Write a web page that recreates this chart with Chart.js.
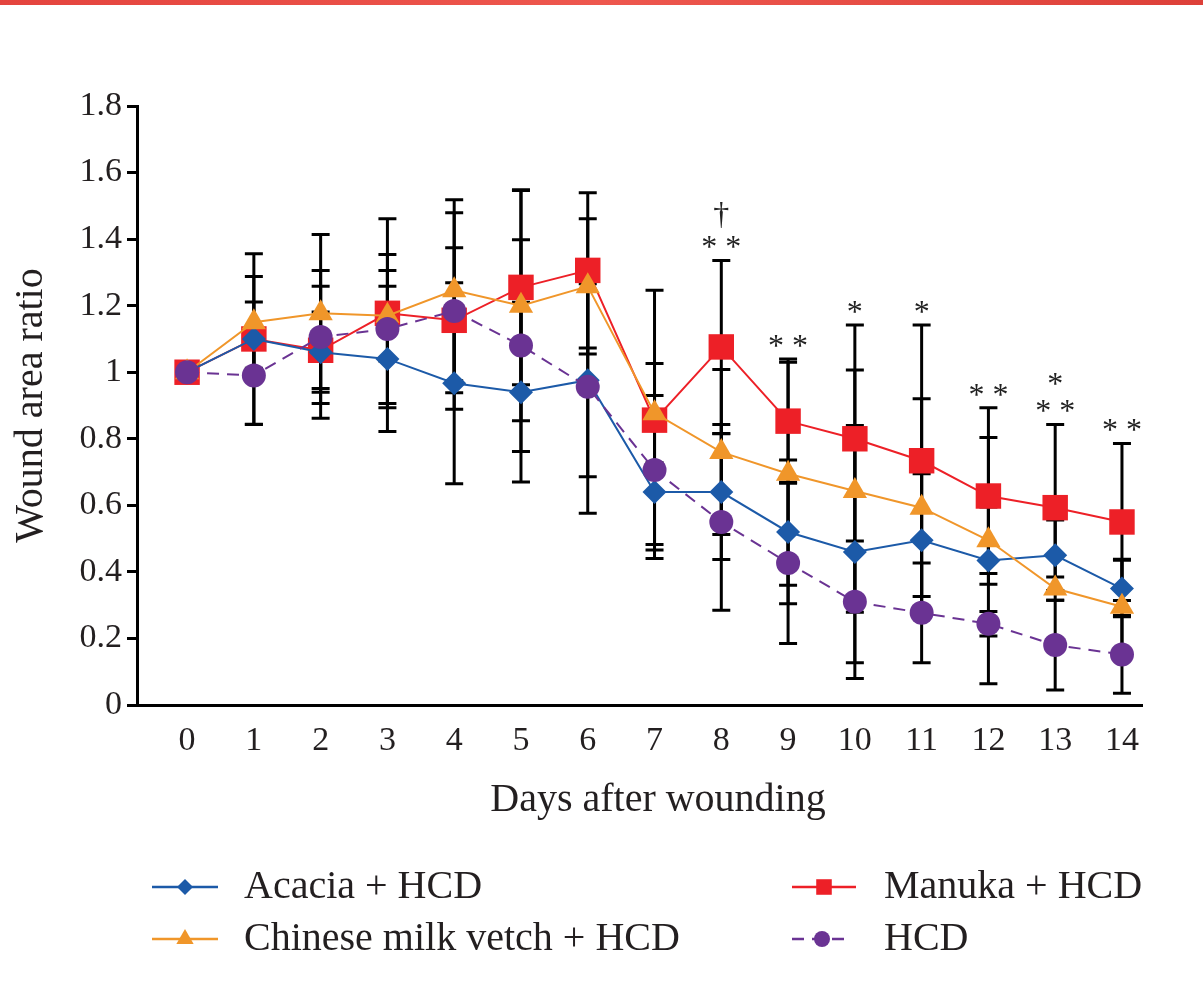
<!DOCTYPE html>
<html>
<head>
<meta charset="utf-8">
<script src="https://cdn.jsdelivr.net/npm/chart.js@4.4.1/dist/chart.umd.min.js"></script>
<style>
  html, body { margin: 0; padding: 0; background: #fff; }
  #wrap { position: relative; width: 1203px; height: 985px; }
  #topbar { position: absolute; left: 0; top: 0; width: 1203px; height: 5px;
            background: linear-gradient(90deg, #e4443e, #ee574e 50%, #dd4039); }
  canvas { position: absolute; left: 0; top: 0; }
</style>
</head>
<body>
<div id="wrap">
  <canvas id="woundChart" width="1203" height="985"></canvas>
  <div id="topbar"></div>
</div>
<script>
// data
var days = [0, 1, 2, 3, 4, 5, 6, 7, 8, 9, 10, 11, 12, 13, 14];
var yTicks = [0, 0.2, 0.4, 0.6, 0.8, 1, 1.2, 1.4, 1.6, 1.8];
var yTickLabels = ['0', '0.2', '0.4', '0.6', '0.8', '1', '1.2', '1.4', '1.6', '1.8'];

var acacia    = [1.00, 1.10, 1.06, 1.04, 0.967, 0.94, 0.976, 0.64, 0.64, 0.52, 0.46, 0.495, 0.434, 0.45, 0.35];
var manuka    = [1.00, 1.10, 1.066, 1.177, 1.156, 1.255, 1.306, 0.856, 1.076, 0.853, 0.80, 0.734, 0.628, 0.593, 0.55];
var vetch     = [1.00, 1.15, 1.177, 1.17, 1.246, 1.20, 1.258, 0.877, 0.76, 0.695, 0.643, 0.593, 0.495, 0.35, 0.295];
var hcd       = [1.00, 0.99, 1.106, 1.13, 1.184, 1.08, 0.956, 0.706, 0.55, 0.427, 0.31, 0.277, 0.244, 0.18, 0.152];

// error bar half-lengths (SD)
var errAcacia = [0, 0.111, 0.198, 0.218, 0.302, 0.27, 0.29, 0.20, 0.203, 0.216, 0.38, 0.20, 0.37, 0.106, 0.085];
var errManuka = [0, 0.256, 0.115, 0.284, 0.218, 0.293, 0.233, 0.39, 0.26, 0.187, 0.342, 0.408, 0.265, 0.25, 0.236];
var errVetch  = [0, 0.138, 0.237, 0.136, 0.272, 0.346, 0.203, 0.149, 0.248, 0.335, 0.364, 0.327, 0.10, 0.035, 0.143];
var errHcd    = [0, 0.147, 0.20, 0.224, 0.295, 0.318, 0.38, 0.224, 0.265, 0.242, 0.183, 0.15, 0.037, 0.135, 0.117];

// significance marks above the bars
var markDays = [8, 9, 10, 11, 12, 13, 14];
var markText = [['\u2020', '* *'], ['* *'], ['*'], ['*'], ['* *'], ['*', '* *'], ['* *']];

var xTitle = 'Days after wounding';
var yTitle = 'Wound area ratio';

var fontFamily = '"Liberation Serif", "Times New Roman", serif';
var inkColor = '#231f20';

function toPoints(vals) {
	return vals.map(function(v, i) { return { x: days[i], y: v }; });
}

function makeSet(label, vals, errs, color, style, radius, order, dash) {
	return {
		label: label,
		data: toPoints(vals),
		errors: errs,
		borderColor: color,
		backgroundColor: color,
		borderWidth: 2,
		borderDash: dash || [],
		pointStyle: style,
		pointRadius: radius,
		pointHoverRadius: radius,
		pointBorderWidth: 0,
		pointBackgroundColor: color,
		order: order,
		tension: 0
	};
}

var acaciaSet = makeSet('Acacia + HCD', acacia, errAcacia, '#1c5aa8', 'rectRot', 12, 2);
var manukaSet = makeSet('Manuka + HCD', manuka, errManuka, '#ed2027', 'rect', 18, 3);
var vetchSet  = makeSet('Chinese milk vetch + HCD', vetch, errVetch, '#f0962a', 'triangle', 14, 1);
var hcdSet    = makeSet('HCD', hcd, errHcd, '#6a3393', 'circle', 12, 0, [12, 8]);

var errorBars = {
	id: 'errorBars',
	beforeDatasetsDraw: function(chart) {
		var ctx = chart.ctx, xs = chart.scales.x, ys = chart.scales.y;
		ctx.save();
		ctx.strokeStyle = '#000';
		ctx.lineWidth = 3;
		chart.data.datasets.forEach(function(ds) {
			ds.data.forEach(function(p, i) {
				var e = ds.errors[i];
				if (!e) return;
				var x = xs.getPixelForValue(p.x);
				var yTop = ys.getPixelForValue(p.y + e);
				var yBot = ys.getPixelForValue(p.y - e);
				ctx.beginPath();
				ctx.moveTo(x, yTop); ctx.lineTo(x, yBot);
				ctx.moveTo(x - 9, yTop); ctx.lineTo(x + 9, yTop);
				ctx.moveTo(x - 9, yBot); ctx.lineTo(x + 9, yBot);
				ctx.stroke();
			});
		});
		ctx.restore();
	}
};

var sigMarks = {
	id: 'sigMarks',
	afterDatasetsDraw: function(chart) {
		var ctx = chart.ctx, xs = chart.scales.x, ys = chart.scales.y;
		ctx.save();
		ctx.fillStyle = '#222';
		ctx.font = '32px ' + fontFamily;
		ctx.textAlign = 'center';
		ctx.textBaseline = 'alphabetic';
		markDays.forEach(function(d, k) {
			var i = days.indexOf(d);
			var top = Math.max.apply(null, chart.data.datasets.map(function(ds) {
				return ds.data[i].y + ds.errors[i];
			}));
			var x = xs.getPixelForValue(d);
			var y = ys.getPixelForValue(top) - 18;
			var lines = markText[k];
			for (var j = lines.length - 1; j >= 0; j--) {
				var m = ctx.measureText(lines[j]);
				ctx.fillText(lines[j], x, y + (m.actualBoundingBoxAscent - m.actualBoundingBoxDescent) / 2);
				y -= 27;
			}
		});
		ctx.restore();
	}
};

// x title sits a little right of the plot centre in the figure, so it is drawn here
// two column legend under the axis
var legendBox = {
	id: 'legendBox',
	afterDraw: function(chart) {
		var ctx = chart.ctx;
		ctx.save();
		ctx.fillStyle = inkColor;
		ctx.font = '40px ' + fontFamily;
		ctx.textAlign = 'center';
		ctx.textBaseline = 'middle';
		ctx.fillText(xTitle, 658, 800);

		var items = [
			{ ds: acaciaSet, x1: 152, x2: 218, tx: 244, y: 887, r: 8 },
			{ ds: vetchSet,  x1: 152, x2: 218, tx: 244, y: 939, r: 10 },
			{ ds: manukaSet, x1: 792, x2: 856, tx: 884, y: 887, r: 11 },
			{ ds: hcdSet,    x1: 792, x2: 852, tx: 884, y: 939, r: 8 }
		];
		items.forEach(function(it) {
			var ds = it.ds;
			ctx.strokeStyle = ds.borderColor;
			ctx.lineWidth = 2.5;
			ctx.setLineDash(ds.borderDash);
			ctx.beginPath();
			ctx.moveTo(it.x1, it.y); ctx.lineTo(it.x2, it.y);
			ctx.stroke();
			ctx.setLineDash([]);
			ctx.fillStyle = ds.borderColor;
			Chart.helpers.drawPoint(ctx, { pointStyle: ds.pointStyle, radius: it.r, rotation: 0, borderWidth: 0 },
				(it.x1 + it.x2) / 2, it.y);
			ctx.fillStyle = inkColor;
			ctx.textAlign = 'left';
			ctx.fillText(ds.label, it.tx, it.y);
		});
		ctx.restore();
	}
};

var chartElem = document.getElementById('woundChart');

var config = {
	type: 'line',
	data: { datasets: [acaciaSet, manukaSet, vetchSet, hcdSet] },
	options: {
		responsive: false,
		animation: false,
		layout: { padding: { top: 106, right: 61, bottom: 150, left: 0 } },
		plugins: { legend: { display: false }, tooltip: { enabled: false } },
		scales: {
			x: {
				type: 'linear',
				min: -0.75,
				max: 14.3,
				afterBuildTicks: function(s) { s.ticks = days.map(function(d) { return { value: d }; }); },
				afterFit: function(s) { s.height = 130; },
				grid: { display: true, drawOnChartArea: false, drawTicks: false, color: 'rgba(0,0,0,0)' },
				border: { display: true, color: '#000', width: 3 },
				ticks: { font: { family: fontFamily, size: 34 }, color: inkColor, padding: 16,
				         maxRotation: 0, autoSkip: false }
			},
			y: {
				min: 0,
				max: 1.8,
				afterBuildTicks: function(s) { s.ticks = yTicks.map(function(v) { return { value: v }; }); },
				afterFit: function(s) { s.width = 137; },
				grid: { drawOnChartArea: false, drawTicks: true, tickLength: 10, tickWidth: 3, tickColor: '#000' },
				border: { display: true, color: '#000', width: 3 },
				ticks: { font: { family: fontFamily, size: 34 }, color: inkColor, padding: 5,
				         callback: function(v, i) { return yTickLabels[i]; } },
				title: { display: true, text: yTitle, color: inkColor,
				         font: { family: fontFamily, size: 40, lineHeight: 1.2 }, padding: { top: 7, bottom: 0 } }
			}
		}
	},
	plugins: [errorBars, sigMarks, legendBox]
};

var graph = new Chart(chartElem, config);
</script>
</body>
</html>
